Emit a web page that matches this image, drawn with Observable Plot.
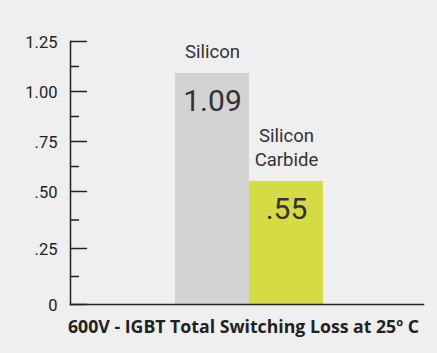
<!DOCTYPE html>
<html>
<head>
<meta charset="utf-8">
<script src="https://cdn.jsdelivr.net/npm/d3@7"></script>
<script src="https://cdn.jsdelivr.net/npm/@observablehq/plot@0.6"></script>
<style>
  html, body { margin: 0; padding: 0; background: #efefef; }
  #chart { width: 437px; height: 353px; position: relative; }
  #title { position: absolute; left: 0; top: 314px; width: 437px; padding-left: 68px; box-sizing: border-box;
    font-family: "Open Sans", sans-serif; font-weight: 700; font-size: 17.7px; color: #222; white-space: nowrap; }
</style>
</head>
<body>
<div id="chart"></div>
<script>
const categories = ["Silicon", "Silicon Carbide"];
const labels = ["Silicon", "Silicon\nCarbide"];
const values = [1.09, 0.55];
const valueLabels = ["1.09", ".55"];
const majorTicks = [0, 0.25, 0.5, 0.75, 1.0, 1.25];
const tickLabels = ["0", ".25", ".50", ".75", "1.00", "1.25"];
const minorTicks = [0.125, 0.375, 0.625, 0.875, 1.125];
const title = "600V - IGBT Total Switching Loss at 25º C";

const data = categories.map((c, i) => ({category: c, value: values[i], label: labels[i], valueLabel: valueLabels[i]}));
const fmt = d => tickLabels[majorTicks.indexOf(d)];

const plot = Plot.plot({
  width: 437,
  height: 353,
  marginLeft: 70,
  marginRight: 14,
  marginTop: 41,
  marginBottom: 49,
  style: {background: "#efefef", fontFamily: "Roboto, sans-serif", color: "#333"},
  x: {domain: categories, range: [175, 323], padding: 0, axis: null},
  y: {domain: majorTicks, range: [304, 248, 191, 141, 91, 41], type: "linear", axis: null},
  marks: [
    Plot.barY(data, {x: "category", y: "value", fill: d => d.category === "Silicon" ? "#d3d3d3" : "#d4db45", inset: 0}),
    Plot.axisY({ticks: majorTicks, tickSize: -17, text: null, label: null, stroke: "#222", strokeWidth: 1.5}),
    Plot.axisY({ticks: minorTicks, tickSize: -9, text: null, label: null, stroke: "#222", strokeWidth: 1.5}),
    Plot.axisY({ticks: majorTicks, tickSize: 0, tickPadding: 13, tickFormat: fmt, label: null, fontSize: 16.5, fill: "#222", dy: 1}),
    Plot.frame({anchor: "left", stroke: "#222", strokeWidth: 1.5}),
    Plot.frame({anchor: "bottom", stroke: "#222", strokeWidth: 1.5}),
    Plot.text(data, {x: "category", y: "value", text: "label", dy: -16, lineAnchor: "bottom", fontSize: 18.5, fill: "#333", lineHeight: 1.28}),
    Plot.text(data, {x: "category", y: "value", text: "valueLabel", dy: 28, fontSize: 30, fill: "#333"})
  ]
});
document.getElementById("chart").appendChild(plot);
const t = document.createElement("div");
t.id = "title";
t.textContent = title;
document.getElementById("chart").appendChild(t);
</script>
</body>
</html>
